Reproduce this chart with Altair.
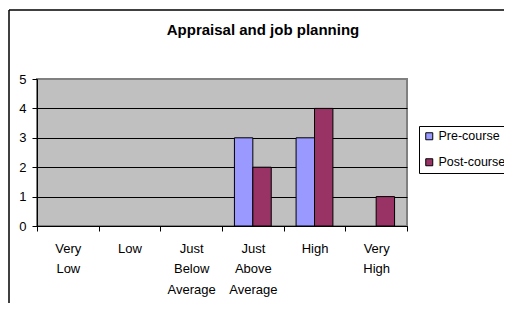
import altair as alt
import pandas as pd

categories = ["Very Low", "Low", "Just Below Average", "Just Above Average", "High", "Very High"]
pre_course = [0, 0, 0, 3, 3, 0]
post_course = [0, 0, 0, 2, 4, 1]
series = ["Pre-course", "Post-course"]
colors = ["#9999FF", "#993366"]
y_ticks = [0, 1, 2, 3, 4, 5]
title_text = "Appraisal and job planning"

rows = []
for c, a, b in zip(categories, pre_course, post_course):
    rows.append({"cat": c, "series": series[0], "value": a})
    rows.append({"cat": c, "series": series[1], "value": b})
df = pd.DataFrame(rows)

FONT = "Liberation Sans"
W, H = 370, 147

bars = alt.Chart(df).transform_filter("datum.value > 0").mark_bar(
    stroke="black", strokeWidth=1
).encode(
    x=alt.X("cat:N", sort=categories, title=None,
            scale=alt.Scale(domain=categories, paddingInner=0, paddingOuter=0),
            axis=alt.Axis(labelAngle=0, labelExpr="split(datum.label, ' ')",
                          labelLineHeight=20.5, labelFontSize=13, labelFont=FONT,
                          labelColor="black", labelPadding=11, tickBand="extent",
                          tickSize=5, tickColor="black", domainColor="black",
                          labelBaseline="top", grid=False)),
    xOffset=alt.XOffset("series:N", sort=series,
                        scale=alt.Scale(domain=series, paddingInner=0, paddingOuter=0.675)),
    y=alt.Y("value:Q", title=None,
            scale=alt.Scale(domain=[0, 5], nice=False),
            axis=alt.Axis(values=y_ticks, format="d", labelFontSize=13, labelFont=FONT,
                          labelColor="black", tickSize=5, tickColor="black",
                          domainColor="black", labelPadding=6,
                          gridColor={"condition": {"test": "datum.value === 5", "value": "#808080"}, "value": "black"},
                          gridWidth=1)),
    color=alt.Color("series:N", sort=series,
                    scale=alt.Scale(domain=series, range=colors),
                    legend=alt.Legend(title=None, orient="none", legendX=382, legendY=47,
                                      strokeColor="black", fillColor="white", padding=4,
                                      symbolType="square", symbolSize=49,
                                      symbolStrokeColor="black", symbolStrokeWidth=1,
                                      symbolOpacity=1,
                                      labelFontSize=12.5, labelFont=FONT, labelColor="black",
                                      labelOffset=3, rowPadding=13)),
)

title = alt.Chart(pd.DataFrame({"t": [title_text]})).mark_text(
    font=FONT, fontSize=15, fontWeight="bold", color="black",
    align="center", baseline="alphabetic"
).encode(text="t:N", x=alt.value(226), y=alt.value(-44))

frame_src = pd.DataFrame({"a": [0]})
top_edge = alt.Chart(frame_src).mark_rule(color="black", strokeWidth=1.5).encode(
    x=alt.value(-28), x2=alt.value(W + 120), y=alt.value(-69)
)
left_edge = alt.Chart(frame_src).mark_rule(color="black", strokeWidth=1.5).encode(
    x=alt.value(-28), y=alt.value(-69), y2=alt.value(H + 120)
)

chart = alt.layer(bars, title, top_edge, left_edge).properties(
    width=W, height=H,
    padding={"left": 29, "top": 71, "right": 97, "bottom": 77},
    autosize=alt.AutoSizeParams(type="none"),
    background="white",
).configure_view(
    fill="#C0C0C0", stroke="#808080", strokeWidth=2
)

chart.save("out.html", embed_options={"renderer": "svg", "actions": False})
